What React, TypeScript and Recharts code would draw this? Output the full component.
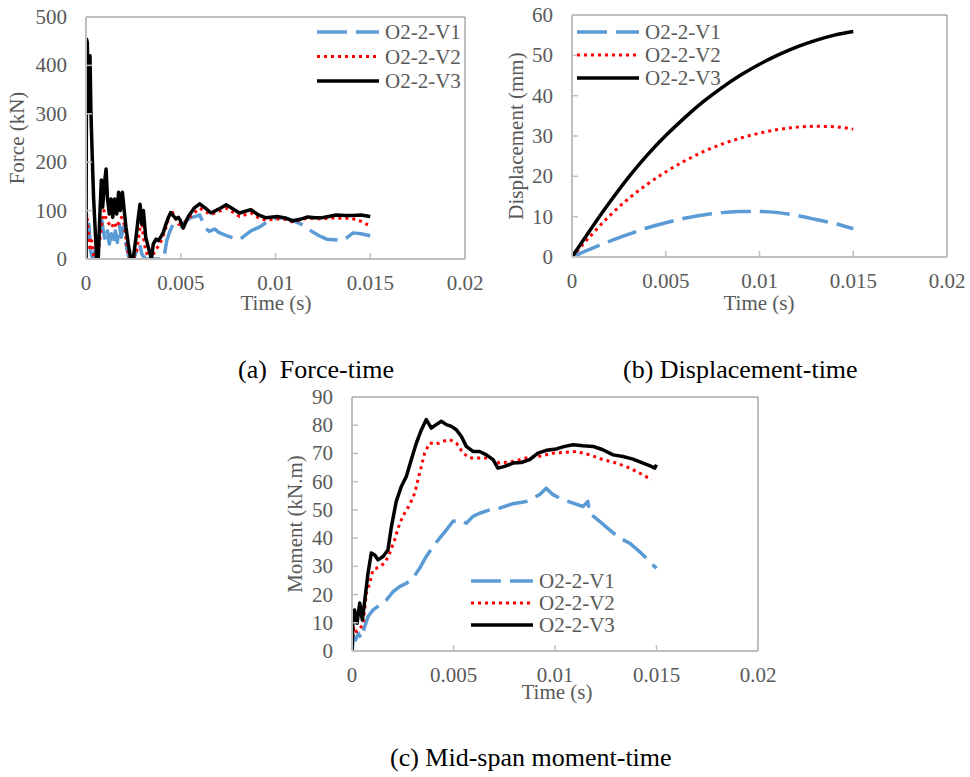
import React from 'react';
import { LineChart, Line, XAxis, YAxis, Legend, ReferenceLine } from 'recharts';

const FONT = '"Liberation Serif", "Times New Roman", serif';
const GRAY_TEXT = '#595959';

const SERIES_NAMES = ['O2-2-V1', 'O2-2-V2', 'O2-2-V3'];
const TIME_TICKS = [0, 0.005, 0.01, 0.015, 0.02];
const FORCE_TICKS = [0, 100, 200, 300, 400, 500];
const DISP_TICKS = [0, 10, 20, 30, 40, 50, 60];
const MOMENT_TICKS = [0, 10, 20, 30, 40, 50, 60, 70, 80, 90];

// (a) force-time, kN
const forceV1Time = [0, 0.00001, 0.00007, 0.00015, 0.00024, 0.00035, 0.00048, 0.0006, 0.00071, 0.00078, 0.00084, 0.00091, 0.00102, 0.00113, 0.00123, 0.00134, 0.00144, 0.00155, 0.00165, 0.00176, 0.00186, 0.00197, 0.00207, 0.00218, 0.00229, 0.0025, 0.00268, 0.00283, 0.00295, 0.00313, 0.0041, 0.00426, 0.00443, 0.0046, 0.00478, 0.00496, 0.0053, 0.0055, 0.0058, 0.006, 0.0063, 0.0065, 0.0068, 0.007, 0.0075, 0.0081, 0.0087, 0.0092, 0.0097, 0.0101, 0.0106, 0.011, 0.0114, 0.0118, 0.0123, 0.0127, 0.0131, 0.0135, 0.0138, 0.0141, 0.0145, 0.015];
const forceV1 = [0, 90, 31, 72, 17, 0, 17, 31, 38, 58, 79, 58, 38, 58, 31, 52, 31, 58, 34, 72, 45, 65, 38, 17, 0, 0, 17, 31, 10, 0, 0, 38, 58, 72, 65, 67, 79, 85, 88, 91, 64, 57, 62, 55, 47, 40, 58, 67, 81, 85, 84, 78, 71, 60, 48, 41, 40, 38, 45, 54, 52, 48];

const forceV2Time = [0, 0.00002, 0.00004, 0.00012, 0.00021, 0.0003, 0.00042, 0.00056, 0.0007, 0.00083, 0.00095, 0.00109, 0.00123, 0.00136, 0.00148, 0.00162, 0.00176, 0.00188, 0.00201, 0.00215, 0.00229, 0.0025, 0.00268, 0.00285, 0.00294, 0.00303, 0.00315, 0.00329, 0.00346, 0.00364, 0.0039, 0.00417, 0.00435, 0.00452, 0.0047, 0.00487, 0.00505, 0.0053, 0.0057, 0.006, 0.0063, 0.0066, 0.007, 0.0074, 0.0077, 0.0081, 0.0087, 0.0091, 0.0095, 0.0101, 0.0105, 0.0109, 0.0113, 0.0117, 0.0121, 0.0125, 0.013, 0.0135, 0.014, 0.0145, 0.015];
const forceV2 = [0, 60, 93, 58, 17, 38, 0, 0, 31, 72, 100, 79, 72, 65, 76, 65, 79, 86, 72, 31, 0, 0, 17, 65, 79, 45, 17, 3, 0, 17, 31, 58, 83, 100, 86, 72, 72, 80, 95, 105, 98, 92, 98, 105, 98, 88, 95, 85, 80, 83, 82, 77, 80, 85, 83, 83, 85, 84, 84, 78, 68];

const forceV3Time = [0, 0.00003, 0.00007, 0.00012, 0.00021, 0.00026, 0.00033, 0.0004, 0.00048, 0.00056, 0.00065, 0.00074, 0.00081, 0.00088, 0.00097, 0.00106, 0.00113, 0.00123, 0.00132, 0.00141, 0.00151, 0.00162, 0.00172, 0.00181, 0.00192, 0.00201, 0.00211, 0.00223, 0.00236, 0.0025, 0.00264, 0.00276, 0.00285, 0.00294, 0.00303, 0.00315, 0.00329, 0.00345, 0.00355, 0.0037, 0.00382, 0.00394, 0.00408, 0.00422, 0.00435, 0.00447, 0.00461, 0.00475, 0.00487, 0.00496, 0.00513, 0.0054, 0.0057, 0.006, 0.0063, 0.0066, 0.007, 0.0074, 0.0077, 0.0081, 0.0087, 0.0091, 0.0095, 0.0101, 0.0105, 0.0109, 0.0113, 0.0117, 0.0121, 0.0124, 0.0128, 0.0132, 0.0137, 0.0141, 0.0145, 0.015];
const forceV3 = [0, 454, 447, 305, 420, 305, 210, 127, 65, 0, 3, 100, 163, 107, 155, 186, 127, 93, 124, 86, 124, 93, 138, 100, 138, 103, 65, 31, 0, 3, 45, 86, 113, 72, 100, 45, 24, 0, 31, 41, 38, 45, 55, 72, 86, 96, 89, 83, 86, 81, 64, 88, 105, 114, 105, 95, 103, 112, 105, 95, 102, 91, 85, 88, 85, 79, 82, 87, 85, 85, 88, 91, 90, 90, 91, 88];

// (b) displacement-time, mm
const dispTime = [0, 0.001, 0.002, 0.003, 0.004, 0.005, 0.006, 0.007, 0.008, 0.009, 0.01, 0.011, 0.012, 0.013, 0.014, 0.015];
const dispV1 = [0, 2.0, 3.9, 5.6, 7.2, 8.5, 9.6, 10.4, 11.0, 11.3, 11.3, 11.0, 10.3, 9.3, 8.3, 7.0];
const dispV2 = [0, 5.3, 10.2, 14.4, 18.0, 21.1, 23.8, 26.1, 28.0, 29.5, 30.7, 31.6, 32.2, 32.4, 32.3, 31.7];
const dispV3 = [0, 6.9, 13.5, 19.7, 25.2, 30.1, 34.5, 38.5, 42.0, 45.1, 47.8, 50.1, 52.1, 53.7, 55.0, 55.9];

// (c) mid-span moment-time, kN.m
const momentV1Time = [0, 0.00008, 0.00018, 0.0003, 0.00046, 0.00062, 0.00079, 0.00103, 0.00136, 0.0017, 0.00202, 0.00235, 0.00268, 0.003, 0.00333, 0.00366, 0.00399, 0.00432, 0.00465, 0.00497, 0.0053, 0.00563, 0.00596, 0.00629, 0.00678, 0.00727, 0.00793, 0.00859, 0.00924, 0.00957, 0.0099, 0.01039, 0.01089, 0.01138, 0.01162, 0.01171, 0.0122, 0.01269, 0.01319, 0.01368, 0.01417, 0.0145, 0.01483, 0.015];
const momentV1 = [0, 5, 3.9, 6.3, 4.5, 8.6, 12.2, 14.5, 16.3, 18.1, 21, 22.8, 24, 25.8, 29.3, 33.5, 37, 40, 42.9, 45.9, 46.5, 45.3, 47.7, 48.8, 50, 50.6, 52.2, 53, 55.4, 57.7, 55.4, 53.6, 52.4, 51.2, 53, 48.8, 45.9, 42.9, 40, 38.2, 35.2, 32.9, 30.5, 29.3];

const momentV2Time = [0, 0.00008, 0.00021, 0.00038, 0.00054, 0.00071, 0.00087, 0.00103, 0.0012, 0.00136, 0.00161, 0.00186, 0.0021, 0.00235, 0.00259, 0.00284, 0.00309, 0.00333, 0.00358, 0.00383, 0.00415, 0.00448, 0.00481, 0.00514, 0.00547, 0.0058, 0.00629, 0.00678, 0.00727, 0.00793, 0.00859, 0.00924, 0.0099, 0.01056, 0.01105, 0.01171, 0.01236, 0.01302, 0.01368, 0.01434, 0.01475];
const momentV2 = [0, 8.6, 6.9, 8, 9.2, 20.5, 24, 28.7, 29.3, 30, 31.1, 34.7, 39.4, 45.3, 48.8, 51.8, 55.9, 63, 70.1, 73.7, 73.3, 74.3, 74.9, 73.7, 70.1, 68.4, 68.4, 68.4, 66.6, 67.2, 68.4, 69, 70.1, 70.4, 70.7, 69.5, 67.8, 66.6, 64.8, 62.4, 60.7];

const momentV3Time = [0, 0.00005, 0.00013, 0.00025, 0.00038, 0.00051, 0.00067, 0.00079, 0.00095, 0.00112, 0.00128, 0.00153, 0.00177, 0.00194, 0.00218, 0.00243, 0.00268, 0.00292, 0.00317, 0.00342, 0.00366, 0.00391, 0.00415, 0.0044, 0.00465, 0.0049, 0.00514, 0.00539, 0.00563, 0.00596, 0.00629, 0.00662, 0.00695, 0.00719, 0.00752, 0.00793, 0.00834, 0.00875, 0.00916, 0.00957, 0.01007, 0.01048, 0.01089, 0.01138, 0.01187, 0.01236, 0.01286, 0.01335, 0.01384, 0.01434, 0.01475, 0.01491, 0.015];
const momentV3 = [0, 11, 14.5, 9.8, 17, 11, 20.5, 27.6, 34.7, 34, 32.3, 33.5, 35.8, 44, 53, 58.3, 61.9, 67.8, 73.7, 78.4, 82, 79, 80.2, 81.4, 80.2, 79.6, 78.4, 76, 72.5, 70.7, 70.7, 69.5, 67.8, 64.8, 65.4, 66.6, 66.8, 67.8, 70.1, 71.1, 71.6, 72.5, 73.1, 72.7, 72.5, 71.3, 69.5, 68.9, 68, 66.6, 65.4, 64.8, 66];

const zip = (time: number[], values: number[]) => time.map((t, i) => ({ t, v: values[i] }));

const LINE_STYLES = [
  { stroke: '#5b9bd5', strokeWidth: 3.5, strokeDasharray: '30 9' },
  { stroke: '#ff0000', strokeWidth: 3, strokeDasharray: '3 4' },
  { stroke: '#000000', strokeWidth: 3.5 },
];

const XTick = (props: any) => {
  const { x, y, payload } = props;
  return (
    <g>
      <line x1={x} x2={x} y1={y} y2={y - 6} stroke="#bfbfbf" strokeWidth={1.5} />
      <text x={x} y={y + 24} textAnchor="middle" dominantBaseline="central" fill={GRAY_TEXT} fontSize={21} fontFamily={FONT}>
        {payload.value}
      </text>
    </g>
  );
};

const YTick = (props: any) => {
  const { x, y, payload } = props;
  return (
    <g>
      <line x1={x} x2={x + 6} y1={y} y2={y} stroke="#bfbfbf" strokeWidth={1.5} />
      <text x={x - 19} y={y} textAnchor="end" dominantBaseline="central" fill={GRAY_TEXT} fontSize={21} fontFamily={FONT}>
        {payload.value}
      </text>
    </g>
  );
};

const makeLegend = (gap: number) => () => (
  <svg width={170} height={gap * 2 + 24}>
    {SERIES_NAMES.map((name, i) => (
      <g key={name}>
        <line x1={0} x2={62} y1={12 + i * gap} y2={12 + i * gap} {...LINE_STYLES[i]} />
        <text x={68} y={12 + i * gap} dominantBaseline="central" fill={GRAY_TEXT} fontSize={21} fontFamily={FONT}>
          {name}
        </text>
      </g>
    ))}
  </svg>
);

interface PanelProps {
  left: number;
  top: number;
  width: number;
  height: number;
  marginTop: number;
  marginRight: number;
  xAxisHeight: number;
  yMax: number;
  yTicks: number[];
  series: { t: number; v: number }[][];
  smooth?: boolean;
  legendLeft: number;
  legendTop: number;
  legendGap: number;
}

function Panel(p: PanelProps) {
  return (
    <div style={{ position: 'absolute', left: p.left, top: p.top }}>
      <LineChart width={p.width} height={p.height} margin={{ top: p.marginTop, right: p.marginRight, bottom: 0, left: 0 }}>
        <XAxis
          type="number"
          dataKey="t"
          domain={[0, 0.02]}
          ticks={TIME_TICKS}
          height={p.xAxisHeight}
          axisLine={{ stroke: '#bfbfbf', strokeWidth: 2 }}
          tickLine={false}
          tickSize={0}
          tickMargin={0}
          tick={<XTick />}
          allowDataOverflow
        />
        <YAxis
          type="number"
          domain={[0, p.yMax]}
          ticks={p.yTicks}
          width={86}
          axisLine={{ stroke: '#bfbfbf', strokeWidth: 2 }}
          tickLine={false}
          tickSize={0}
          tickMargin={0}
          tick={<YTick />}
          allowDataOverflow
        />
        <ReferenceLine y={p.yMax} stroke="#7f7f7f" strokeWidth={1} />
        <ReferenceLine x={0.02} stroke="#7f7f7f" strokeWidth={1} />
        {p.series.map((data, i) => (
          <Line
            key={SERIES_NAMES[i]}
            data={data}
            dataKey="v"
            name={SERIES_NAMES[i]}
            type={p.smooth ? 'monotone' : 'linear'}
            dot={false}
            activeDot={false}
            strokeLinejoin="round"
            isAnimationActive={false}
            {...LINE_STYLES[i]}
          />
        ))}
        <Legend
          layout="vertical"
          align="center"
          verticalAlign="middle"
          content={makeLegend(p.legendGap)}
          wrapperStyle={{ left: p.legendLeft, top: p.legendTop, width: 170, height: p.legendGap * 2 + 24 }}
        />
      </LineChart>
    </div>
  );
}

const textBase: React.CSSProperties = {
  position: 'absolute',
  fontFamily: FONT,
  whiteSpace: 'pre',
  lineHeight: 1,
};

const AxisTitle = ({ x, y, text, rotate }: { x: number; y: number; text: string; rotate?: boolean }) => (
  <div
    style={{
      ...textBase,
      left: x,
      top: y,
      fontSize: 21,
      color: GRAY_TEXT,
      transform: `translate(-50%, -50%)${rotate ? ' rotate(-90deg)' : ''}`,
    }}
  >
    {text}
  </div>
);

const Caption = ({ x, y, text }: { x: number; y: number; text: string }) => (
  <div style={{ ...textBase, left: x, top: y, fontSize: 26, color: '#000', transform: 'translateY(-50%)' }}>{text}</div>
);

export default function App() {
  return (
    <div style={{ position: 'absolute', left: 0, top: 0, width: 970, height: 777, background: '#fff', overflow: 'hidden' }}>
      <Panel
        left={0}
        top={0}
        width={500}
        height={320}
        marginTop={17}
        marginRight={35}
        xAxisHeight={61}
        yMax={500}
        yTicks={FORCE_TICKS}
        series={[zip(forceV1Time, forceV1), zip(forceV2Time, forceV2), zip(forceV3Time, forceV3)]}
        legendLeft={317}
        legendTop={20}
        legendGap={24.5}
      />
      <Panel
        left={486}
        top={0}
        width={484}
        height={320}
        marginTop={15}
        marginRight={23}
        xAxisHeight={63}
        yMax={60}
        yTicks={DISP_TICKS}
        smooth
        series={[zip(dispTime, dispV1), zip(dispTime, dispV2), zip(dispTime, dispV3)]}
        legendLeft={91}
        legendTop={20}
        legendGap={23}
      />
      <Panel
        left={266}
        top={380}
        width={530}
        height={320}
        marginTop={17}
        marginRight={38}
        xAxisHeight={49}
        yMax={90}
        yTicks={MOMENT_TICKS}
        series={[zip(momentV1Time, momentV1), zip(momentV2Time, momentV2), zip(momentV3Time, momentV3)]}
        legendLeft={205}
        legendTop={189}
        legendGap={22}
      />

      <AxisTitle x={17} y={138} text="Force (kN)" rotate />
      <AxisTitle x={276} y={303} text="Time (s)" />
      <AxisTitle x={516} y={136} text="Displacement (mm)" rotate />
      <AxisTitle x={759} y={303} text="Time (s)" />
      <AxisTitle x={295} y={524} text="Moment (kN.m)" rotate />
      <AxisTitle x={557} y={692} text="Time (s)" />

      <Caption x={238} y={370} text="(a)  Force-time" />
      <Caption x={623} y={370} text="(b) Displacement-time" />
      <Caption x={390} y={758} text="(c) Mid-span moment-time" />
    </div>
  );
}
